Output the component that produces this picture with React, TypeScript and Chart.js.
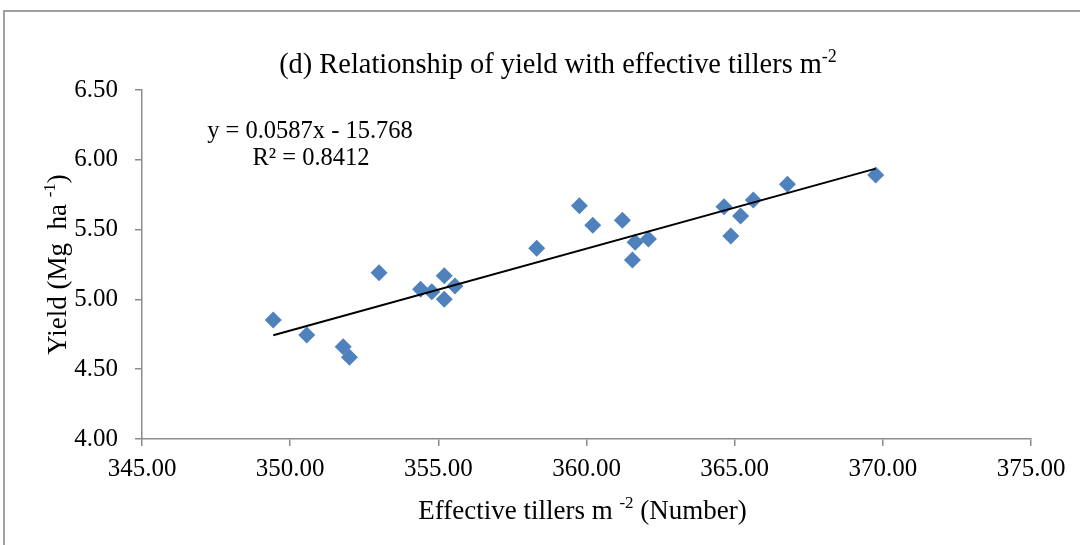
import React, { useEffect, useRef } from "react";
import { Chart, registerables } from "chart.js";

Chart.register(...registerables);

// Effective tillers m-2 (x) and yield Mg ha-1 (y)
const tillers = [
  349.43, 350.56, 351.79, 352.0, 353.0, 354.4, 354.78, 355.2, 355.2, 355.56,
  358.32, 359.76, 360.21, 361.21, 361.55, 361.64, 362.09, 364.64, 364.87,
  365.2, 365.63, 366.78, 369.76,
];
const yields = [
  4.852, 4.745, 4.661, 4.585, 5.191, 5.072, 5.055, 5.001, 5.17, 5.096,
  5.366, 5.671, 5.531, 5.567, 5.282, 5.409, 5.433, 5.664, 5.454, 5.597,
  5.712, 5.825, 5.891,
];

const trendSlope = 0.0587;
const trendIntercept = -15.768;

const xRange = [345, 375];
const yRange = [4, 6.5];
const xStep = 5;
const yStep = 0.5;

const titleParts: [string, boolean][] = [
  ["(d) Relationship of yield with effective tillers m", false],
  ["-2", true],
];
const xTitleParts: [string, boolean][] = [
  ["Effective tillers m ", false],
  ["-2", true],
  [" (Number)", false],
];
const yTitleParts: [string, boolean][] = [
  ["Yield (Mg  ha ", false],
  ["-1", true],
  [")", false],
];
const equationLines = ["y = 0.0587x - 15.768", "R\u00b2 = 0.8412"];

const FONT = '"Liberation Serif", "Times New Roman", serif';

function drawRich(
  ctx: CanvasRenderingContext2D,
  parts: [string, boolean][],
  cx: number,
  baseline: number,
  size: number
) {
  const supSize = Math.round(size * 0.62);
  let total = 0;
  const widths = parts.map(([t, sup]) => {
    ctx.font = `${sup ? supSize : size}px ${FONT}`;
    const w = ctx.measureText(t).width;
    total += w;
    return w;
  });
  let x = cx - total / 2;
  ctx.textAlign = "left";
  ctx.textBaseline = "alphabetic";
  parts.forEach(([t, sup], i) => {
    ctx.font = `${sup ? supSize : size}px ${FONT}`;
    ctx.fillText(t, x, sup ? baseline - size * 0.4 : baseline);
    x += widths[i];
  });
}

const textPlugin = {
  id: "customText",
  afterDraw(chart: any) {
    const ctx: CanvasRenderingContext2D = chart.ctx;
    const area = chart.chartArea;
    ctx.save();
    ctx.fillStyle = "#000";
    drawRich(ctx, titleParts, 558, 73, 28.4);
    drawRich(ctx, xTitleParts, (area.left + area.right) / 2 - 4, 519, 27);
    ctx.save();
    ctx.translate(66, (area.top + area.bottom) / 2);
    ctx.rotate(-Math.PI / 2);
    drawRich(ctx, yTitleParts, 0, 0, 27);
    ctx.restore();
    ctx.font = `24.5px ${FONT}`;
    ctx.textAlign = "center";
    ctx.textBaseline = "alphabetic";
    ctx.fillText(equationLines[0], 310, 138);
    ctx.fillText(equationLines[1], 311, 165);
    ctx.restore();
  },
};

export default function App() {
  const ref = useRef<HTMLCanvasElement>(null);

  useEffect(() => {
    if (!ref.current) return;
    const points = tillers.map((x, i) => ({ x, y: yields[i] }));
    const xMin = Math.min(...tillers);
    const xMax = Math.max(...tillers);
    const trend = [xMin, xMax].map((x) => ({
      x,
      y: trendSlope * x + trendIntercept,
    }));

    const chart = new Chart(ref.current, {
      type: "scatter",
      data: {
        datasets: [
          {
            label: "Linear",
            data: trend,
            showLine: true,
            borderColor: "#000",
            borderWidth: 2,
            pointRadius: 0,
            fill: false,
          },
          {
            label: "Yield",
            data: points,
            pointStyle: "rectRot",
            pointRadius: 8.5,
            backgroundColor: "#4F81BD",
            borderColor: "#4F81BD",
            borderWidth: 0,
          },
        ],
      },
      options: {
        animation: false,
        responsive: false,
        maintainAspectRatio: false,
        layout: { padding: { left: 0, top: 90, right: 49, bottom: 0 } },
        plugins: {
          legend: { display: false },
          title: { display: false },
          tooltip: { enabled: false },
        },
        scales: {
          x: {
            type: "linear",
            min: xRange[0],
            max: xRange[1],
            afterFit: (s: any) => {
              s.height = 106;
            },
            ticks: {
              stepSize: xStep,
              padding: 8,
              color: "#000",
              font: { family: FONT, size: 25 },
              callback: (v: any) => Number(v).toFixed(2),
              maxRotation: 0,
            },
            grid: {
              drawOnChartArea: false,
              drawTicks: true,
              tickLength: 7,
              color: "#8c8c8c",
              lineWidth: 1.5,
            },
            border: { display: true, color: "#8c8c8c", width: 1.5 },
          },
          y: {
            type: "linear",
            min: yRange[0],
            max: yRange[1],
            afterFit: (s: any) => {
              s.width = 142;
            },
            ticks: {
              stepSize: yStep,
              padding: 17,
              color: "#000",
              font: { family: FONT, size: 25 },
              callback: (v: any) => Number(v).toFixed(2),
            },
            grid: {
              drawOnChartArea: false,
              drawTicks: true,
              tickLength: 7,
              color: "#8c8c8c",
              lineWidth: 1.5,
            },
            border: { display: true, color: "#8c8c8c", width: 1.5 },
          },
        },
      },
      plugins: [textPlugin],
    });
    return () => chart.destroy();
  }, []);

  return (
    <div
      style={{
        position: "fixed",
        left: 0,
        top: 0,
        width: 1080,
        height: 545,
        overflow: "hidden",
        background: "#fff",
      }}
    >
      <div
        style={{
          position: "absolute",
          left: 3,
          top: 10,
          width: 2000,
          height: 2000,
          borderLeft: "2px solid #a0a0a0",
          borderTop: "2px solid #a0a0a0",
        }}
      />
      <canvas
        ref={ref}
        width={1080}
        height={545}
        style={{ position: "absolute", left: 0, top: 0, width: 1080, height: 545 }}
      />
    </div>
  );
}
